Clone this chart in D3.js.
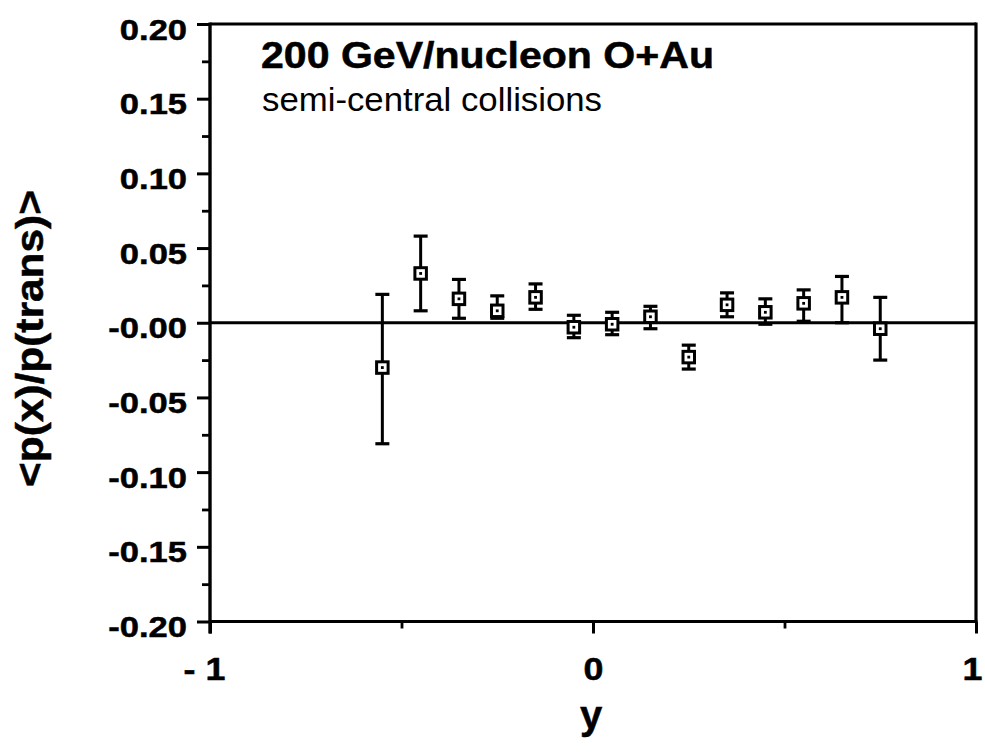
<!DOCTYPE html>
<html>
<head>
<meta charset="utf-8">
<script src="https://cdn.jsdelivr.net/npm/d3@7"></script>
<style>
  html, body { margin: 0; padding: 0; background: #fff; }
  svg { display: block; }
  text { font-family: "Liberation Sans", Arial, Helvetica, sans-serif; fill: #000; }
</style>
</head>
<body>
<svg id="chart" width="985" height="753"></svg>
<script>
// ---- data ----
const xBins = [-0.55, -0.45, -0.35, -0.25, -0.15, -0.05, 0.05, 0.15, 0.25, 0.35, 0.45, 0.55, 0.65, 0.75];
const ratio = [-0.030, 0.033, 0.016, 0.008, 0.017, -0.003, -0.001, 0.004, -0.023, 0.012, 0.007, 0.013, 0.017, -0.004];
const errUpper = [0.019, 0.058, 0.029, 0.018, 0.026, 0.005, 0.007, 0.011, -0.015, 0.020, 0.016, 0.022, 0.031, 0.017];
const errLower = [-0.081, 0.008, 0.003, 0.003, 0.009, -0.010, -0.008, -0.004, -0.031, 0.004, -0.001, 0.001, 0.000, -0.025];

const yTicksMajor = [-0.20, -0.15, -0.10, -0.05, 0.00, 0.05, 0.10, 0.15, 0.20];
const yTickLabels = ["-0.20", "-0.15", "-0.10", "-0.05", "-0.00", "0.05", "0.10", "0.15", "0.20"];
const yTicksMinor = [-0.175, -0.125, -0.075, -0.025, 0.025, 0.075, 0.125, 0.175];
const xTicksMajor = [-1, 0, 1];
const xTickLabels = ["- 1", "0", "1"];
const xTicksMinor = [-0.5, 0.5];

const titleText = "200 GeV/nucleon O+Au";
const subtitleText = "semi-central collisions";
const xTitle = "y";
const yTitle = "<p(x)/p(trans)>";

// ---- layout ----
const L = 210, R = 976, T = 24, B = 621.5;
const svg = d3.select("#chart");
svg.append("rect").attr("width", 985).attr("height", 753).attr("fill", "#fff");

const x = d3.scaleLinear().domain([-1, 1]).range([L, R]);
const y = d3.scaleLinear().domain([-0.20, 0.20]).range([B, T]);

function stretch(sel, k) {
  sel.each(function () {
    const w = this.getComputedTextLength();
    d3.select(this).attr("textLength", w * k).attr("lengthAdjust", "spacingAndGlyphs");
  });
}

// y axis major
const gy = svg.append("g").attr("transform", `translate(${L},0)`)
  .call(d3.axisLeft(y).tickValues(yTicksMajor).tickSize(13).tickPadding(10)
    .tickFormat((d, i) => yTickLabels[i]));
gy.select(".domain").remove();
gy.selectAll(".tick line").attr("stroke", "#000").attr("stroke-width", 3);
gy.selectAll(".tick text").attr("font-size", 30).attr("font-weight", "bold")
  .attr("stroke", "#000").attr("stroke-width", 0.5)
  .attr("dy", "0.5em").call(stretch, 1.15);

// y axis minor
const gym = svg.append("g").attr("transform", `translate(${L},0)`)
  .call(d3.axisLeft(y).tickValues(yTicksMinor).tickSize(8).tickFormat(""));
gym.select(".domain").remove();
gym.selectAll(".tick line").attr("stroke", "#000").attr("stroke-width", 2.8);

// x axis major
const gx = svg.append("g").attr("transform", `translate(0,${B})`)
  .call(d3.axisBottom(x).tickValues(xTicksMajor).tickSize(12).tickPadding(24)
    .tickFormat((d, i) => xTickLabels[i]));
gx.select(".domain").remove();
gx.selectAll(".tick line").attr("stroke", "#000").attr("stroke-width", 3);
gx.selectAll(".tick text").attr("font-size", 32).attr("font-weight", "bold")
  .attr("stroke", "#000").attr("stroke-width", 0.5)
  .attr("dx", (d, i) => i === 0 ? -6 : (i === 2 ? -4 : 0))
  .call(stretch, 1.12);

// x axis minor
const gxm = svg.append("g").attr("transform", `translate(0,${B})`)
  .call(d3.axisBottom(x).tickValues(xTicksMinor).tickSize(7).tickFormat(""));
gxm.select(".domain").remove();
gxm.selectAll(".tick line").attr("stroke", "#000").attr("stroke-width", 2.8);

// frame
const frame = svg.append("g").attr("stroke", "#000").attr("fill", "none");
frame.append("line").attr("x1", L).attr("x2", L).attr("y1", T - 1.5).attr("y2", B + 12).attr("stroke-width", 3.4);
frame.append("line").attr("x1", L).attr("x2", R).attr("y1", T).attr("y2", T).attr("stroke-width", 3.2);
frame.append("line").attr("x1", L).attr("x2", R + 1.5).attr("y1", B).attr("y2", B).attr("stroke-width", 3.2);
frame.append("line").attr("x1", R).attr("x2", R).attr("y1", T - 1.5).attr("y2", B).attr("stroke-width", 3.2);

// zero line
svg.append("line").attr("x1", L).attr("x2", R).attr("y1", y(0)).attr("y2", y(0))
  .attr("stroke", "#000").attr("stroke-width", 2.8);

// data
const pts = xBins.map((v, i) => ({ x: v, y: ratio[i], hi: errUpper[i], lo: errLower[i] }));
const gp = svg.append("g");
const capW = 14, box = 11.5;
const pg = gp.selectAll("g.pt").data(pts).join("g").attr("class", "pt");
pg.append("line").attr("x1", d => x(d.x)).attr("x2", d => x(d.x))
  .attr("y1", d => y(d.hi)).attr("y2", d => y(d.lo))
  .attr("stroke", "#000").attr("stroke-width", 3);
pg.append("line").attr("x1", d => x(d.x) - capW / 2).attr("x2", d => x(d.x) + capW / 2)
  .attr("y1", d => y(d.hi)).attr("y2", d => y(d.hi))
  .attr("stroke", "#000").attr("stroke-width", 3.2);
pg.append("line").attr("x1", d => x(d.x) - capW / 2).attr("x2", d => x(d.x) + capW / 2)
  .attr("y1", d => y(d.lo)).attr("y2", d => y(d.lo))
  .attr("stroke", "#000").attr("stroke-width", 3.2);
pg.append("rect").attr("x", d => x(d.x) - box / 2).attr("y", d => y(d.y) - box / 2)
  .attr("width", box).attr("height", box)
  .attr("fill", "#fff").attr("stroke", "#000").attr("stroke-width", 3);
pg.append("rect").attr("x", d => x(d.x) - 1.4).attr("y", d => y(d.y) - 1.4)
  .attr("width", 2.8).attr("height", 2.8).attr("fill", "#000");

// title texts
svg.append("text").attr("x", 261).attr("y", 68)
  .attr("font-size", 36).attr("font-weight", "bold").text(titleText)
  .attr("stroke", "#000").attr("stroke-width", 0.5)
  .attr("textLength", 453).attr("lengthAdjust", "spacingAndGlyphs");
svg.append("text").attr("x", 262).attr("y", 111)
  .attr("font-size", 33).text(subtitleText)
  .attr("textLength", 340).attr("lengthAdjust", "spacingAndGlyphs");

// axis titles
svg.append("text").attr("x", 591).attr("y", 729)
  .attr("text-anchor", "middle").attr("font-size", 40).attr("font-weight", "bold").text(xTitle)
  .attr("stroke", "#000").attr("stroke-width", 0.5);
svg.append("text").attr("transform", "translate(43,338.5) rotate(-90)")
  .attr("text-anchor", "middle").attr("font-size", 38).attr("font-weight", "bold").text(yTitle)
  .attr("stroke", "#000").attr("stroke-width", 0.5)
  .attr("textLength", 297).attr("lengthAdjust", "spacingAndGlyphs");
</script>
</body>
</html>
